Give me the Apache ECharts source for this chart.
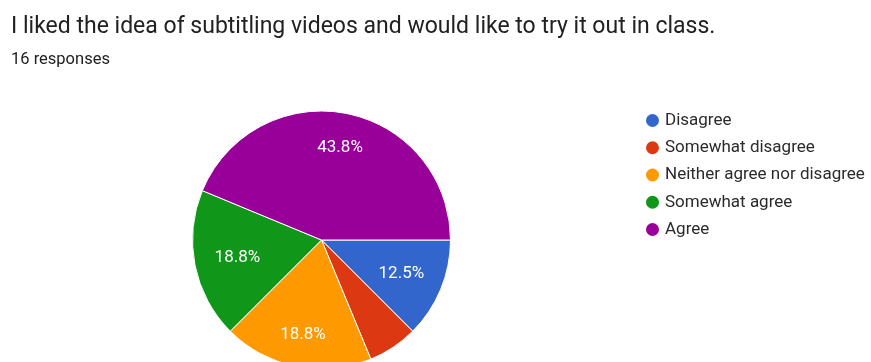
<!DOCTYPE html>
<html>
<head>
<meta charset="utf-8">
<script src="https://cdn.jsdelivr.net/npm/echarts@6/dist/echarts.min.js"></script>
<style>html,body{margin:0;padding:0;background:#fff;}#c{width:871px;height:362px;}</style>
</head>
<body>
<div id="c"></div>
<script>
const titleText = "I liked the idea of subtitling videos and would like to try it out in class.";
const subText = "16 responses";
const categories = ["Disagree", "Somewhat disagree", "Neither agree nor disagree", "Somewhat agree", "Agree"];
const counts = [2, 1, 3, 3, 7];
const colors = ["#3366cc", "#dc3912", "#ff9900", "#109618", "#990099"];

const R = 129;
const total = counts.reduce((a, b) => a + b, 0);
let cum = 0;
const data = categories.map((name, i) => {
  const mid = (cum + counts[i] / 2) / total * 2 * Math.PI; // clockwise from 3 o'clock
  cum += counts[i];
  const dx = Math.cos(mid), dy = Math.sin(mid);
  const d = 94.5 - 12 * Math.abs(dx);
  const extra = d - R / 2;
  return {
    name, value: counts[i],
    itemStyle: { color: colors[i] },
    label: { offset: [dx * extra, dy * extra + 1] }
  };
});

const chart = echarts.init(document.getElementById('c'), null, { renderer: 'canvas' });
chart.setOption({
  animation: false,
  title: {
    text: titleText,
    subtext: subText,
    left: 6,
    top: 11,
    itemGap: 12,
    textStyle: { fontFamily: 'Roboto', fontSize: 23, fontWeight: 'normal', color: '#212121' },
    subtextStyle: { fontFamily: 'Roboto', fontSize: 16.5, color: '#212121' }
  },
  legend: {
    orient: 'vertical',
    left: 639,
    top: 107,
    icon: 'circle',
    itemWidth: 15,
    itemHeight: 15,
    itemGap: 10.25,
    textStyle: { fontFamily: 'Roboto', fontSize: 17, color: '#2b2b2b' },
    data: categories
  },
  series: [
    {
      type: 'pie',
      center: [321.5, 240],
      radius: [0, R],
      startAngle: 0,
      clockwise: true,
      itemStyle: { borderColor: '#fff', borderWidth: 1 },
      label: {
        show: true,
        position: 'inside',
        fontFamily: 'Roboto',
        fontSize: 17,
        color: '#fff',
        formatter: p => (p.value / total < 0.1 ? '' : (p.value / total * 100).toFixed(1) + '%')
      },
      labelLine: { show: false },
      emphasis: { disabled: true },
      data: data
    }
  ]
});
</script>
</body>
</html>
